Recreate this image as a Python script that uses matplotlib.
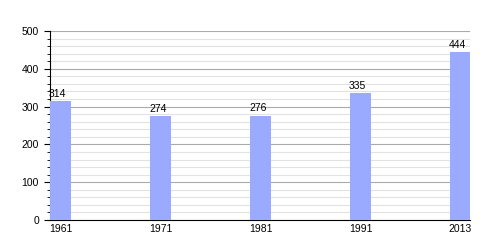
import matplotlib
matplotlib.use("Agg")
from matplotlib import pyplot as plt
from matplotlib.ticker import MultipleLocator
import numpy as np

years = ["1961", "1971", "1981", "1991", "2013"]
population = [314, 274, 276, 335, 444]

plt.rcParams['font.family'] = ['Liberation Sans', 'DejaVu Sans']
fig = plt.figure(figsize=(5, 2.5), dpi=100)
ax = fig.add_axes([0.1, 0.12, 0.84, 0.756])

x = np.arange(len(years))
w = 0.21
ax.bar(x, population, width=w, align='edge', color='#99aaff', zorder=3)
for xi, v in zip(x, population):
    ax.text(xi - 0.01, v + 6, str(v), fontsize=7.5, ha='left', va='bottom', zorder=4)

ax.set_xlim(0, 4.2)
ax.set_ylim(0, 500)
ax.set_xticks(x + w / 2)
ax.set_xticklabels(years, fontsize=7.5)
ax.tick_params(axis='x', length=0, pad=3)
ax.yaxis.set_major_locator(MultipleLocator(100))
ax.yaxis.set_minor_locator(MultipleLocator(20))
ax.tick_params(axis='y', which='major', labelsize=7.5, length=4.5, direction='out')
ax.tick_params(axis='y', which='minor', length=2.5, direction='out')
ax.grid(axis='y', which='major', color='#aaaaaa', linewidth=0.8, zorder=0)
ax.grid(axis='y', which='minor', color='#e2e2e2', linewidth=0.8, zorder=0)
for s in ['top', 'right']:
    ax.spines[s].set_visible(False)
ax.spines['left'].set_linewidth(0.8)
ax.spines['bottom'].set_linewidth(0.8)

plt.savefig('out.png', dpi=100)
